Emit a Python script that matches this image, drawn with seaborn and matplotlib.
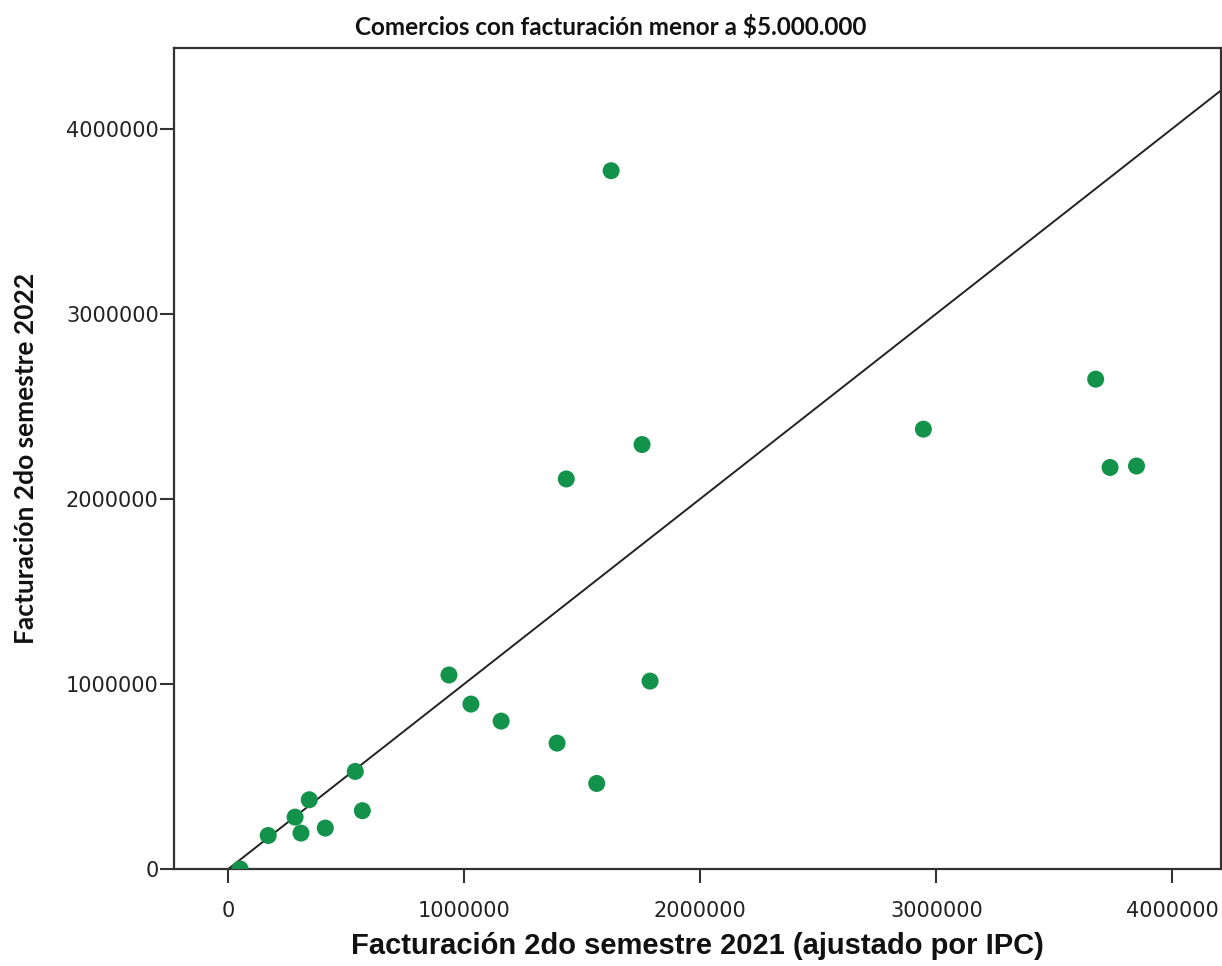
import matplotlib
matplotlib.use("Agg")
import matplotlib.pyplot as plt
import seaborn as sns
import pandas as pd

# Data (x: 2021 adjusted by IPC, y: 2022)
fact_2021 = [50000, 169000, 283000, 308000, 343000, 411000, 538000, 568000,
             935000, 1028000, 1156000, 1393000, 1561000, 1787000,
             1622000, 1753000, 1432000, 2945000, 3675000, 3736000, 3848000]
fact_2022 = [0, 181000, 280000, 194000, 374000, 221000, 527000, 315000,
             1048000, 891000, 799000, 680000, 462000, 1015000,
             3772000, 2293000, 2107000, 2376000, 2646000, 2169000, 2177000]
x_ticks = [0, 1000000, 2000000, 3000000, 4000000]
y_ticks = [0, 1000000, 2000000, 3000000, 4000000]

title = "Comercios con facturación menor a $5.000.000"
xlabel = "Facturación 2do semestre 2021 (ajustado por IPC)"
ylabel = "Facturación 2do semestre 2022"

df = pd.DataFrame({"x": fact_2021, "y": fact_2022})

sns.set_style("white")
plt.rcParams['font.family'] = ['DejaVu Sans']

fig = plt.figure(figsize=(12.22, 9.66), dpi=100)
ax = fig.add_axes([174/1222, 1-869/966, (1221-174)/1222, (869-48)/966])

sns.scatterplot(data=df, x="x", y="y", ax=ax, color="#12924a", s=150,
                edgecolor="none", linewidth=0, zorder=3)
ax.axline((0, 0), slope=1, color="#222222", linewidth=1.4, zorder=2)

ax.set_xlim(-230000, 4206000)
ax.set_ylim(0, 4435000)
ax.set_xticks(x_ticks)
ax.set_yticks(y_ticks)
ax.set_xticklabels([str(v) for v in x_ticks])
ax.set_yticklabels([str(v) for v in y_ticks])

for sp in ax.spines.values():
    sp.set_visible(True)
    sp.set_color("#333333")
    sp.set_linewidth(1.6)

ax.tick_params(axis="both", which="major", direction="out", length=10,
               width=1.5, color="#333333", labelsize=15, labelcolor="#222222",
               bottom=True, left=True)
ax.tick_params(axis="x", pad=13)
ax.tick_params(axis="y", pad=1)

ax.set_xlabel(xlabel, fontsize=21, fontweight="bold", family="Liberation Sans",
              labelpad=8, color="#111111")
ax.set_ylabel(ylabel, fontsize=19, fontweight="bold", family="Lato",
              labelpad=20, color="#111111")
fig.text(0.5, 1-27/966, title, ha="center", va="center", fontsize=17.5,
         fontweight="bold", family="Lato", color="#111111")

fig.savefig("out.png", dpi=100)
